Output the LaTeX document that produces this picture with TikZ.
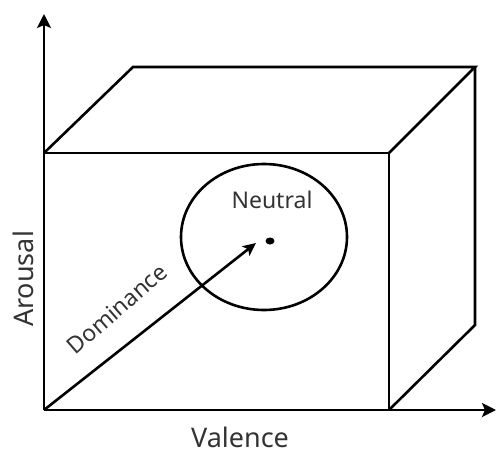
\documentclass[tikz,border=0pt]{standalone}
\usepackage{fontspec}
\setmainfont{Noto Sans}
\usetikzlibrary{arrows.meta}
\begin{document}
\begin{tikzpicture}[x=1pt,y=-1pt,
  edge/.style={line width=2.6pt, line join=miter},
  axis/.style={edge, -{Stealth[length=14pt,width=14pt,inset=3pt]}},
  lbl/.style={font=\fontsize{23}{26}\selectfont, text=black!80, inner sep=0pt},
  biglbl/.style={font=\fontsize{27}{30}\selectfont, text=black!80, inner sep=0pt}]
\useasboundingbox (0,0) rectangle (496,448);
\coordinate (O) at (44,410);
\coordinate (FTL) at (44,153);
\coordinate (FTR) at (389,153);
\coordinate (FBR) at (389,410);
\coordinate (BTL) at (133,67);
\coordinate (BTR) at (475,67);
\coordinate (BBR) at (475,325);
\coordinate (Ytip) at (44,14);
\coordinate (Xtip) at (496,410);
\coordinate (Dtip) at (256,243);
% cube
\draw[edge] (FTL) -- (FTR) -- (FBR);
\draw[edge] (FTL) -- (BTL) -- (BTR) -- (FTR);
\draw[edge] (BTR) -- (BBR) -- (FBR);
% axes
\draw[axis] (O) -- (Ytip);
\draw[axis] (O) -- (Xtip);
\draw[edge, -{Stealth[length=13pt,width=12pt,inset=3pt]}] (O) -- (Dtip);
% neutral region
\draw[edge] (264,237) ellipse [x radius=83, y radius=73];
\fill (270,241) circle [x radius=4.5, y radius=3.5];
% labels
\node[lbl] (neutral) at (272,200) {Neutral};
\node[biglbl, rotate=90] (arousal) at (23,279) {Arousal};
\node[biglbl] (valence) at (240,437) {Valence};
\node[lbl, rotate=41] (dominance) at (117,309) {Dominance};
\end{tikzpicture}
\end{document}
